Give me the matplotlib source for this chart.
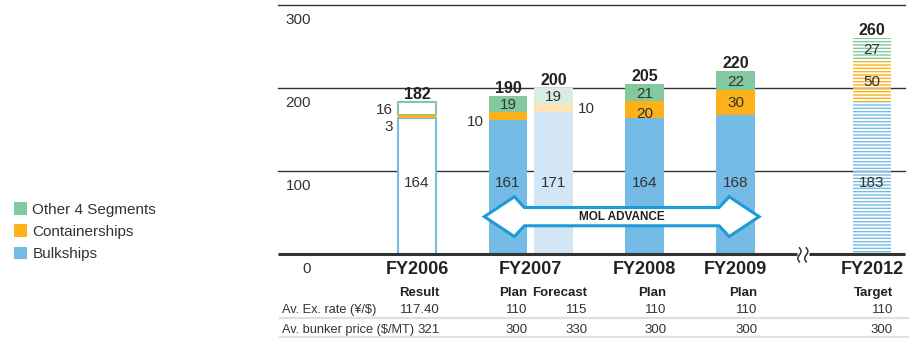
import numpy as np
import matplotlib
matplotlib.use("Agg")
import matplotlib.pyplot as plt
from matplotlib.patches import Patch, Polygon
from matplotlib.lines import Line2D

# ---------------- data ----------------
fiscal_years = ["FY2006", "FY2007", "FY2008", "FY2009", "FY2012"]
bar_status = ["Result", "Plan", "Forecast", "Plan", "Plan", "Target"]
bar_year = [0, 1, 1, 2, 3, 4]          # index into fiscal_years for each bar
bulkships = [164, 161, 171, 164, 168, 183]
containerships = [3, 10, 10, 20, 30, 50]
other_segments = [16, 19, 19, 21, 22, 27]
totals = [182, 190, 200, 205, 220, 260]
ex_rate = ["117.40", "110", "115", "110", "110", "110"]
bunker_price = ["321", "300", "330", "300", "300", "300"]
row_titles = ["Av. Ex. rate (\u00a5/$)", "Av. bunker price ($/MT)"]
y_ticks = [0, 100, 200, 300]
segment_names = ["Other 4 Segments", "Containerships", "Bulkships"]
arrow_text = "MOL ADVANCE"

# ---------------- layout / style ----------------
x_pos = [0, 2, 3, 5, 7, 10]
bar_w = 0.85
bar_style = ["open", "solid", "light", "solid", "solid", "striped"]
col_right = [0.50, 0.42, 0.74, 0.48, 0.48, 0.46]   # right edge of table text, relative to bar
cont_side = ["left", "left", "right", "in", "in", "in"]
cont_nudge = [-9, -5, 0, -3, 0, 0]                 # pixels
other_side = ["left", "in", "in", "in", "in", "in"]

GREEN, ORANGE, BLUE = "#84C99D", "#FBB117", "#74BBE6"
LGREEN, LORANGE, LBLUE = "#D9EEE0", "#FEE3B6", "#D2E6F5"
ARROW = "#1E9AD7"
INK = "#333333"
GRID = "#333333"

plt.rcParams["font.family"] = ["Liberation Sans", "DejaVu Sans"]
plt.rcParams["hatch.linewidth"] = 1.0

fig = plt.figure(figsize=(9.2, 3.38), dpi=100)
ax = fig.add_axes([278 / 920, 84 / 338, 627 / 920, 249 / 338])
ax.set_xlim(-3.055, 10.725)
ax.set_ylim(0, 300)
ax.axis("off")

# gridlines and tick labels
for v in y_ticks[1:]:
    ax.axhline(v, color=GRID, lw=1.0, zorder=0, clip_on=False)
for v in y_ticks:
    ax.annotate(str(v), (-2.33, v), xytext=(0, -15), textcoords="offset pixels",
                ha="right", va="center", fontsize=11, color=INK,
                annotation_clip=False)

# baseline with a scale break between FY2009 and FY2012
brk = 8.48
gap = 0.13
ax.plot([-3.055, brk - gap], [0, 0], color=GRID, lw=2.2, solid_capstyle="butt",
        clip_on=False, zorder=3)
ax.plot([brk + gap, 10.725], [0, 0], color=GRID, lw=2.2, solid_capstyle="butt",
        clip_on=False, zorder=3)
t = np.linspace(-1, 1, 40)
for dx in (-0.075, 0.075):
    ax.plot(brk + dx + 0.035 * np.sin(np.pi * t), -1 + 8.5 * t, color=GRID,
            lw=1.1, clip_on=False, zorder=3)

# stacked bars
for i, style in enumerate(bar_style):
    x = x_pos[i]
    segs = [bulkships[i], containerships[i], other_segments[i]]
    bottoms = np.concatenate([[0], np.cumsum(segs)[:-1]])
    if style == "solid":
        cols = [BLUE, ORANGE, GREEN]
        for s, b, c in zip(segs, bottoms, cols):
            ax.bar(x, s, bottom=b, width=bar_w, color=c, lw=0, zorder=2)
    elif style == "light":
        cols = [LBLUE, LORANGE, LGREEN]
        for s, b, c in zip(segs, bottoms, cols):
            ax.bar(x, s, bottom=b, width=bar_w, color=c, lw=0, zorder=2)
    elif style == "open":
        ax.bar(x, segs[0], bottom=bottoms[0], width=bar_w, facecolor="white",
               edgecolor=BLUE, lw=1.5, zorder=2)
        ax.bar(x, segs[2], bottom=bottoms[2], width=bar_w, facecolor="white",
               edgecolor=GREEN, lw=1.5, zorder=2)
        ax.bar(x, segs[1], bottom=bottoms[1], width=bar_w, color=ORANGE,
               lw=0, zorder=2.5)
    else:  # striped target bar
        cols = [BLUE, ORANGE, GREEN]
        for s, b, c in zip(segs, bottoms, cols):
            ax.bar(x, s, bottom=b, width=bar_w, facecolor="none", edgecolor=c,
                   lw=0, hatch="-----", zorder=2)

    # bulkships value
    ax.text(x, 86, str(bulkships[i]), ha="center", va="center", fontsize=11,
            color=INK, zorder=5)

    # containership / other values
    for val, b, side, nud in ((containerships[i], bottoms[1], cont_side[i], cont_nudge[i]),
                              (other_segments[i], bottoms[2], other_side[i], 0)):
        yc = b + val / 2
        if side == "in":
            ax.annotate(str(val), (x, yc), xytext=(0, nud - 1), textcoords="offset pixels",
                        ha="center", va="center", fontsize=11, color=INK, zorder=5)
        elif side == "left":
            ax.annotate(str(val), (x - bar_w / 2, yc), xytext=(-5, nud - 1),
                        textcoords="offset pixels", ha="right", va="center",
                        fontsize=11, color=INK, zorder=5)
        else:
            ax.annotate(str(val), (x + bar_w / 2, yc), xytext=(5, nud - 1),
                        textcoords="offset pixels", ha="left", va="center",
                        fontsize=11, color=INK, zorder=5)

    # total on top
    ax.annotate(str(totals[i]), (x, sum(segs)), xytext=(0, 3),
                textcoords="offset pixels", ha="center", va="baseline",
                fontsize=11.5, fontweight="bold", color="#222222", zorder=5)

# double-headed "MOL ADVANCE" arrow
xl, xr = x_pos[1] - 0.52, x_pos[4] + 0.52
yc, sh, hh = 45, 11, 24
hc, hj = 0.66, 0.88
pts = [(xl, yc), (xl + hc, yc + hh), (xl + hj, yc + sh), (xr - hj, yc + sh),
       (xr - hc, yc + hh), (xr, yc), (xr - hc, yc - hh), (xr - hj, yc - sh),
       (xl + hj, yc - sh), (xl + hc, yc - hh)]
ax.add_patch(Polygon(pts, closed=True, facecolor="white", edgecolor=ARROW,
                     lw=2.2, joinstyle="miter", zorder=6))
ax.text((xl + xr) / 2, yc, arrow_text, ha="center", va="center", fontsize=8.5,
        fontweight="bold", color="#222222", zorder=7)

# category labels and table under the axis
def below(x, dy, s, **kw):
    ax.annotate(s, (x, 0), xytext=(0, -dy), textcoords="offset pixels",
                annotation_clip=False, **kw)

for k, fy in enumerate(fiscal_years):
    xs = [x_pos[i] for i in range(len(x_pos)) if bar_year[i] == k]
    below(np.mean(xs), 16, fy, ha="center", va="center", fontsize=13,
          fontweight="bold", color="#222222")

for i in range(len(x_pos)):
    xr_i = x_pos[i] + col_right[i]
    below(xr_i, 39, bar_status[i], ha="right", va="center", fontsize=9.5,
          fontweight="bold", color="#222222")
    below(xr_i, 56, ex_rate[i], ha="right", va="center", fontsize=9.5, color=INK)
    below(xr_i, 76, bunker_price[i], ha="right", va="center", fontsize=9.5, color=INK)

x_title = -2.967
below(x_title, 56, row_titles[0], ha="left", va="center", fontsize=9.2, color=INK)
below(x_title, 76, row_titles[1], ha="left", va="center", fontsize=9.2, color=INK)

for ypx in (318, 337):
    fig.add_artist(Line2D([280 / 920, 908 / 920], [1 - ypx / 338] * 2,
                          color="#E0E0E0", lw=1.6))

# legend
handles = [Patch(facecolor=c, edgecolor="none") for c in (GREEN, ORANGE, BLUE)]
fig.legend(handles, segment_names, loc="upper left",
           bbox_to_anchor=(14 / 920, 1 - 202 / 338), frameon=False, fontsize=11,
           handlelength=0.85, handleheight=0.9, handletextpad=0.35,
           labelspacing=0.5, borderpad=0, borderaxespad=0, labelcolor=INK)

fig.savefig("out.png", dpi=100)
